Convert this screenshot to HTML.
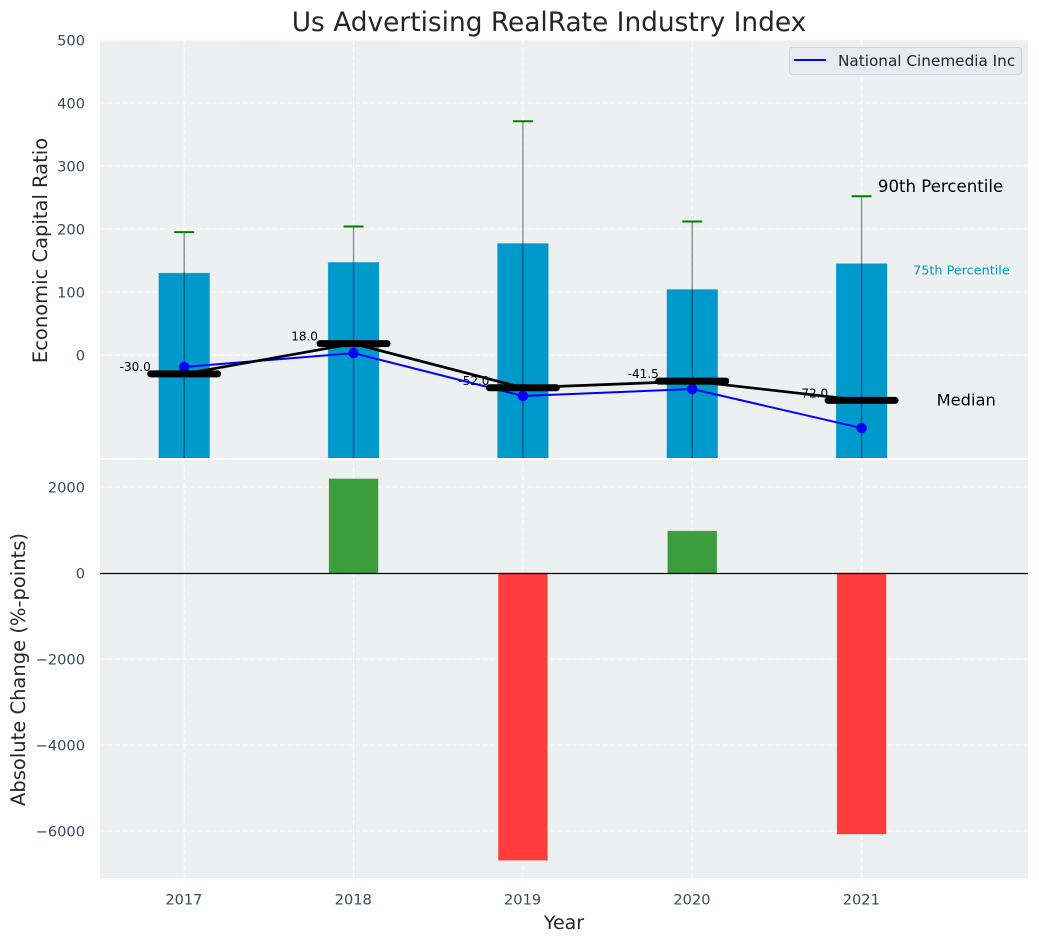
<!DOCTYPE html>
<html>
<head>
<meta charset="utf-8">
<title>Us Advertising RealRate Industry Index</title>
<style>
html,body{margin:0;padding:0;background:#fff;width:1039px;height:942px;overflow:hidden}
svg{display:block}
text{font-family:"DejaVu Sans","Liberation Sans",sans-serif}
</style>
</head>
<body>
<svg id="chart" xmlns="http://www.w3.org/2000/svg" width="1039" height="942" viewBox="0 0 1039 942">
  <text x="549" y="31" font-size="26.4" fill="#262626" text-anchor="middle">Us Advertising RealRate Industry Index</text>
  <rect x="100" y="40" width="928" height="418" fill="#ecf0f1"/>
  <rect x="100" y="460" width="928" height="418" fill="#ecf0f1"/>
  <defs>
    <clipPath id="topClip"><rect x="100" y="40" width="928" height="418"/></clipPath>
    <clipPath id="bottomClip"><rect x="100" y="460" width="928" height="418"/></clipPath>
  </defs>
  <g id="topGrid"></g>
  <g id="bottomGrid"></g>
  <g id="topMarks" clip-path="url(#topClip)"></g>
  <g id="bottomMarks" clip-path="url(#bottomClip)"></g>
  <g id="labels"></g>
  <text transform="translate(47,250.5) rotate(-90)" font-size="19.5" fill="#262626" text-anchor="middle">Economic Capital Ratio</text>
  <text transform="translate(25,669.5) rotate(-90)" font-size="19.5" fill="#262626" text-anchor="middle">Absolute Change (%-points)</text>
  <text x="564" y="929" font-size="19" fill="#262626" text-anchor="middle">Year</text>
  <g>
    <rect x="789.5" y="47.5" width="232" height="27" rx="3" fill="#e9e9f1" stroke="#d2d3d6" stroke-width="1"/>
    <line x1="794" y1="60" x2="826" y2="60" stroke="#0000ff" stroke-width="2"/>
    <text x="838" y="66" font-size="15.25" fill="#262626">National Cinemedia Inc</text>
  </g>
</svg>
<script>
var years = [2017, 2018, 2019, 2020, 2021];
var p75 = [130, 147, 177, 104, 145];
var p90 = [195, 204, 371, 212, 252];
var medians = [-30.0, 18.0, -52.0, -41.5, -72.0];
var company = [-19, 3, -65, -54, -116];
var changes = [0, 2190, -6680, 975, -6070];
var topTicks = [0, 100, 200, 300, 400, 500];
var bottomTicks = [2000, 0, -2000, -4000, -6000];
var NS = 'http://www.w3.org/2000/svg';

function sx(v) { return 184.2 + (v - 2017) * 169.35; }
function sy(v) { return 355 - v * 0.63; }
function by(v) { return 573 - v * 0.043; }

function mk(tag, parent, attrs, txt) {
  var el = document.createElementNS(NS, tag);
  for (var k in attrs) { el.setAttribute(k, attrs[k]); }
  if (txt !== undefined) { el.textContent = txt; }
  parent.appendChild(el);
  return el;
}
var topGrid = document.getElementById('topGrid');
var bottomGrid = document.getElementById('bottomGrid');
var topMarks = document.getElementById('topMarks');
var bottomMarks = document.getElementById('bottomMarks');
var labels = document.getElementById('labels');
var gridStyle = {stroke: '#ffffff', 'stroke-width': 1, 'stroke-dasharray': '5 2.5', opacity: 0.85};
var el;

topTicks.forEach(function (t) {
  var a = Object.assign({x1: 100, x2: 1028, y1: sy(t), y2: sy(t)}, gridStyle);
  el = mk('line', topGrid, a);
  
  
  el = mk('text', labels, {x: 85, y: sy(t) + 5.5, 'font-size': 14.6, fill: '#34495e', 'text-anchor': 'end'}, String(t));
  
  
});
bottomTicks.forEach(function (t) {
  var a = Object.assign({x1: 100, x2: 1028, y1: by(t), y2: by(t)}, gridStyle);
  el = mk('line', bottomGrid, a);
  
  
  el = mk('text', labels, {x: 85, y: by(t) + 5.5, 'font-size': 14.6, fill: '#34495e', 'text-anchor': 'end'}, String(t).replace('-', '\u2212'));
  
  
});
years.forEach(function (y) {
  var a = Object.assign({x1: sx(y), x2: sx(y), y1: 40, y2: 458}, gridStyle);
  el = mk('line', topGrid, a);
  
  
  var b = Object.assign({x1: sx(y), x2: sx(y), y1: 460, y2: 878}, gridStyle);
  el = mk('line', bottomGrid, b);
  
  
  el = mk('text', labels, {x: sx(y) - 0.3, y: 904.5, 'font-size': 14.6, fill: '#34495e', 'text-anchor': 'middle'}, String(y));
  
  
});

years.forEach(function (y, i) {
  el = mk('rect', topMarks, {x: sx(y) - 25.4, y: sy(p75[i]), width: 50.8, height: 458 - sy(p75[i]), fill: '#0099cc', stroke: '#0099cc', 'stroke-opacity': 0.25, 'stroke-width': 1});
  
  
});
years.forEach(function (y, i) {
  el = mk('line', topMarks, {x1: sx(y), x2: sx(y), y1: sy(p90[i]), y2: 458, stroke: '#000000', 'stroke-opacity': 0.45, 'stroke-width': 1.3});
  
  
  el = mk('line', topMarks, {x1: sx(y) - 10, x2: sx(y) + 10, y1: sy(p90[i]), y2: sy(p90[i]), stroke: '#008000', 'stroke-width': 2});
  
  
});
years.forEach(function (y, i) {
  el = mk('text', topMarks, {x: sx(y) - 49, y: sy(medians[i]) - 3, 'font-size': 12, fill: '#000000', 'text-anchor': 'middle'}, medians[i].toFixed(1));
  
  
});
el = mk('polyline', topMarks, {fill: 'none', stroke: '#0000ff', 'stroke-width': 2, points: years.map(function (y, i) { return sx(y) + ',' + sy(company[i]); }).join(' ')});


years.forEach(function (y, i) {
  el = mk('circle', topMarks, {cx: sx(y), cy: sy(company[i]), r: 5.2, fill: '#0000ff'});
  
  
});
el = mk('polyline', topMarks, {fill: 'none', stroke: '#000000', 'stroke-width': 2.7, points: years.map(function (y, i) { return sx(y) + ',' + sy(medians[i]); }).join(' ')});


years.forEach(function (y, i) {
  el = mk('line', topMarks, {x1: sx(y) - 33.5, x2: sx(y) + 33.5, y1: sy(medians[i]), y2: sy(medians[i]), stroke: '#000000', 'stroke-width': 7, 'stroke-linecap': 'round'});
  
  
});

var last = years.length - 1;
el = mk('text', topMarks, {x: sx(years[last]) + 16.3, y: sy(p90[last]) - 4, 'font-size': 16.6, fill: '#000000'}, '90th Percentile');


el = mk('text', topMarks, {x: sx(years[last]) + 51.5, y: sy(p75[last]) + 11, 'font-size': 12.8, fill: '#0099cc'}, '75th Percentile');


el = mk('text', topMarks, {x: sx(years[last]) + 75, y: sy(medians[last]) + 5, 'font-size': 16.3, fill: '#000000'}, 'Median');



years.forEach(function (y, i) {
  if (!changes[i]) { return; }
  var pos = changes[i] > 0;
  var y0 = Math.min(by(changes[i]), by(0));
  var h = Math.abs(by(changes[i]) - by(0));
  el = mk('rect', bottomMarks, {x: sx(y) - 24.5, y: y0, width: 49, height: h, fill: pos ? '#3c9d3c' : '#ff3b3b', stroke: pos ? '#3c9d3c' : '#ff3b3b', 'stroke-opacity': 0.3, 'stroke-width': 1});
  
  
});
el = mk('line', bottomMarks, {x1: 100, x2: 1028, y1: by(0) + 0.5, y2: by(0) + 0.5, stroke: '#000000', 'stroke-width': 1.2});


</script>
</body>
</html>
